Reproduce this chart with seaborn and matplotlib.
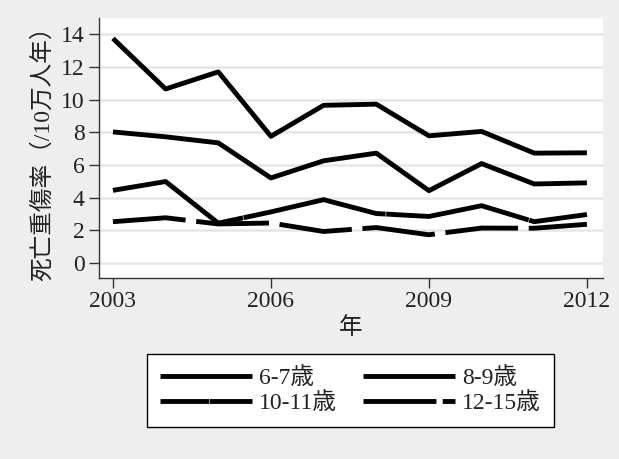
import matplotlib
matplotlib.use("Agg")
import matplotlib.pyplot as plt
import seaborn as sns
import pandas as pd
from matplotlib.lines import Line2D

years = [2003, 2004, 2005, 2006, 2007, 2008, 2009, 2010, 2011, 2012]
age_6_7 = [13.75, 10.65, 11.7, 7.75, 9.65, 9.72, 7.78, 8.05, 6.72, 6.74]
age_8_9 = [8.02, 7.72, 7.35, 5.2, 6.25, 6.72, 4.42, 6.08, 4.83, 4.9]
age_10_11 = [4.44, 4.98, 2.43, 3.12, 3.87, 3.02, 2.84, 3.5, 2.52, 2.96]
age_12_15 = [2.52, 2.76, 2.38, 2.44, 1.92, 2.16, 1.72, 2.13, 2.12, 2.36]
series_names = ["6-7歳", "8-9歳", "10-11歳", "12-15歳"]
y_ticks = [0, 2, 4, 6, 8, 10, 12, 14]
x_ticks = [2003, 2006, 2009, 2012]
y_label = "死亡重傷率（/10万人年）"
x_label = "年"

rows = []
for name, vals in zip(series_names, [age_6_7, age_8_9, age_10_11, age_12_15]):
    for yr, v in zip(years, vals):
        rows.append({"year": yr, "rate": v, "group": name})
df = pd.DataFrame(rows)

sns.set_theme(style="white")
plt.rcParams["font.family"] = ["Liberation Serif", "Noto Sans CJK JP", "DejaVu Sans"]

FS = 17
fig = plt.figure(figsize=(6.19, 4.59), dpi=100, facecolor="#EEEEEE")
ax = fig.add_axes([0.1595, 0.3954, 0.8142, 0.5654])
ax.set_facecolor("white")

LW = 3.5
dashes = {"6-7歳": "", "8-9歳": "", "10-11歳": (30, 0.12), "12-15歳": (15, 2.2)}
palette = {n: "black" for n in series_names}
sns.lineplot(data=df, x="year", y="rate", hue="group", style="group",
             hue_order=series_names, style_order=series_names,
             palette=palette, dashes=dashes, linewidth=LW, ax=ax,
             legend=False)
for line in ax.get_lines():
    line.set_dash_capstyle("butt")
    line.set_solid_capstyle("butt")

ax.set_ylim(-0.9, 15)
ax.set_xlim(2002.73, 2012.3)
ax.set_yticks(y_ticks)
ax.set_xticks(x_ticks)
ax.yaxis.grid(True, color="#E6E6E6", linewidth=1.8)
ax.xaxis.grid(False)
for s in ["top", "right"]:
    ax.spines[s].set_visible(False)
for s in ["left", "bottom"]:
    ax.spines[s].set_color("#333333")
    ax.spines[s].set_linewidth(1.0)
ax.tick_params(axis="both", which="major", direction="out", length=7,
               width=1.0, color="#333333", labelsize=FS, labelcolor="#222222",
               left=True, bottom=True, pad=3)
ax.set_ylabel(y_label, fontsize=FS, color="#222222", labelpad=5)
ax.set_xlabel(x_label, fontsize=FS, color="#222222", labelpad=3)

legend_dashes = {"6-7歳": None, "8-9歳": None, "10-11歳": (10, 0.12), "12-15歳": (15, 1.3)}
handles = {}
for n in series_names:
    d = legend_dashes[n]
    if d is None:
        handles[n] = Line2D([], [], color="black", linewidth=LW, solid_capstyle="butt")
    else:
        handles[n] = Line2D([], [], color="black", linewidth=LW, dashes=d, dash_capstyle="butt")
order = [series_names[0], series_names[2], series_names[1], series_names[3]]
leg = fig.legend([handles[n] for n in order], order, loc="center", ncol=2,
                 bbox_to_anchor=(0.566, 0.149), fontsize=FS, frameon=True,
                 fancybox=False, edgecolor="black", facecolor="white",
                 framealpha=1, handlelength=3.9, handletextpad=0.3,
                 columnspacing=1.1, borderpad=0.55, labelspacing=0.12)
leg.get_frame().set_linewidth(1.0)
for t in leg.get_texts():
    t.set_color("#222222")

fig.savefig("out.png", dpi=100, facecolor=fig.get_facecolor())
